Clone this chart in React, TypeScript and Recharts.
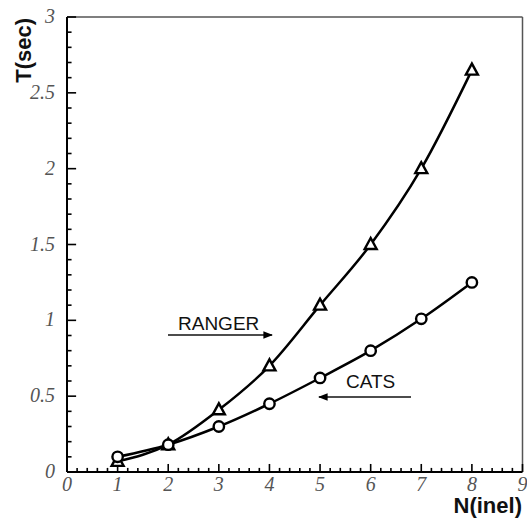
import React from 'react';
import { LineChart, Line, XAxis, YAxis, ReferenceLine } from 'recharts';

// values
const nInel = [1, 2, 3, 4, 5, 6, 7, 8];
const rangerTimes = [0.07, 0.18, 0.41, 0.7, 1.1, 1.5, 2.0, 2.65];
const catsTimes = [0.1, 0.18, 0.3, 0.45, 0.62, 0.8, 1.01, 1.25];

const xTicks = Array.from({ length: 46 }, (_, i) => Number((i * 0.2).toFixed(1)));
const yTicks = Array.from({ length: 31 }, (_, i) => Number((i * 0.1).toFixed(1)));

const data = nInel.map((n, i) => ({ n, ranger: rangerTimes[i], cats: catsTimes[i] }));

const tickFont = { fontFamily: '"Liberation Serif", serif', fontStyle: 'italic', fontSize: 20, fill: '#555' };
const isMajor = (v: number, step: number) => Math.abs(v / step - Math.round(v / step)) < 1e-6;

// tick mark lengths, in axis units (about 9/4.5 px across, 8/4 px up)
const yTickLen = (v: number) => (isMajor(v, 0.5) ? 0.18 : 0.09);
const xTickLen = (v: number) => (isMajor(v, 1) ? 0.053 : 0.027);

const YTick = (props: any) => {
    const x = Number(props.x);
    const y = Number(props.y);
    const v = props.payload.value;
    if (!isMajor(v, 0.5)) return <g />;
    return (
        <text x={x - 12} y={y} dy={6} textAnchor="end" {...tickFont}>{String(v)}</text>
    );
};

const XTick = (props: any) => {
    const x = Number(props.x);
    const y = Number(props.y);
    const v = props.payload.value;
    if (!isMajor(v, 1)) return <g />;
    return (
        <text x={x} y={y + 19} textAnchor="middle" {...tickFont}>{String(v)}</text>
    );
};

const Triangle = (props: any) => {
    const { cx, cy } = props;
    if (cx == null || cy == null) return null;
    return (
        <polygon
            points={`${cx},${cy - 6.5} ${cx - 6},${cy + 4.5} ${cx + 6},${cy + 4.5}`}
            fill="#fff"
            stroke="#000"
            strokeWidth={2.4}
        />
    );
};

const Circle = (props: any) => {
    const { cx, cy } = props;
    if (cx == null || cy == null) return null;
    return <circle cx={cx} cy={cy} r={5.2} fill="#fff" stroke="#000" strokeWidth={2.4} />;
};

const sans = '"Liberation Sans", sans-serif';

export default function App() {
    return (
        <div style={{ position: 'absolute', left: 0, top: 0, width: 527, height: 523, background: '#fff' }}>
            <LineChart width={527} height={523} data={data} margin={{ top: 17, right: 4.5, bottom: 11, left: 7 }}>
                <defs>
                    <marker id="arr" viewBox="0 0 10 10" refX="9" refY="5" markerWidth="6" markerHeight="6" orient="auto-start-reverse">
                        <path d="M0,1 L10,5 L0,9 z" fill="#000" />
                    </marker>
                </defs>
                <XAxis
                    dataKey="n"
                    type="number"
                    domain={[0, 9]}
                    ticks={xTicks}
                    interval={0}
                    tickSize={0}
                    tickMargin={0}
                    tickLine={false}
                    tick={<XTick />}
                    height={40}
                    axisLine={false}
                />
                <YAxis
                    type="number"
                    domain={[0, 3]}
                    ticks={yTicks}
                    interval={0}
                    tickSize={0}
                    tickMargin={0}
                    tickLine={false}
                    tick={<YTick />}
                    width={60}
                    axisLine={false}
                />
                <ReferenceLine y={3} stroke="#555" strokeWidth={1.5} />
                <ReferenceLine x={9} stroke="#555" strokeWidth={1.5} />
                <ReferenceLine y={0} stroke="#000" strokeWidth={2} />
                <ReferenceLine x={0} stroke="#000" strokeWidth={2} />
                {yTicks.map((v) => (
                    <ReferenceLine key={`yt${v}`} segment={[{ x: 0, y: v }, { x: yTickLen(v), y: v }]} stroke="#000" strokeWidth={1.6} />
                ))}
                {xTicks.map((v) => (
                    <ReferenceLine key={`xt${v}`} segment={[{ x: v, y: 0 }, { x: v, y: xTickLen(v) }]} stroke="#000" strokeWidth={1.6} />
                ))}
                <Line type="monotone" dataKey="ranger" stroke="#000" strokeWidth={2.5} dot={<Triangle />} isAnimationActive={false} />
                <Line type="monotone" dataKey="cats" stroke="#000" strokeWidth={2.5} dot={<Circle />} isAnimationActive={false} />
                <g>
                    <text x={31} y={18} transform="rotate(-90 31 18)" textAnchor="end" fontFamily={sans} fontWeight="bold" fontSize={22} fill="#111">T(sec)</text>
                    <text x={522} y={513} textAnchor="end" fontFamily={sans} fontWeight="bold" fontSize={22} fill="#111">N(inel)</text>
                    <text x={178} y={330} fontFamily={sans} fontSize={19} fill="#111">RANGER</text>
                    <line x1={168} y1={335} x2={272} y2={335} stroke="#111" strokeWidth={1.6} markerEnd="url(#arr)" />
                    <text x={346} y={388} fontFamily={sans} fontSize={19} fill="#111">CATS</text>
                    <line x1={411} y1={397} x2={319} y2={397} stroke="#111" strokeWidth={1.6} markerEnd="url(#arr)" />
                </g>
            </LineChart>
        </div>
    );
}
